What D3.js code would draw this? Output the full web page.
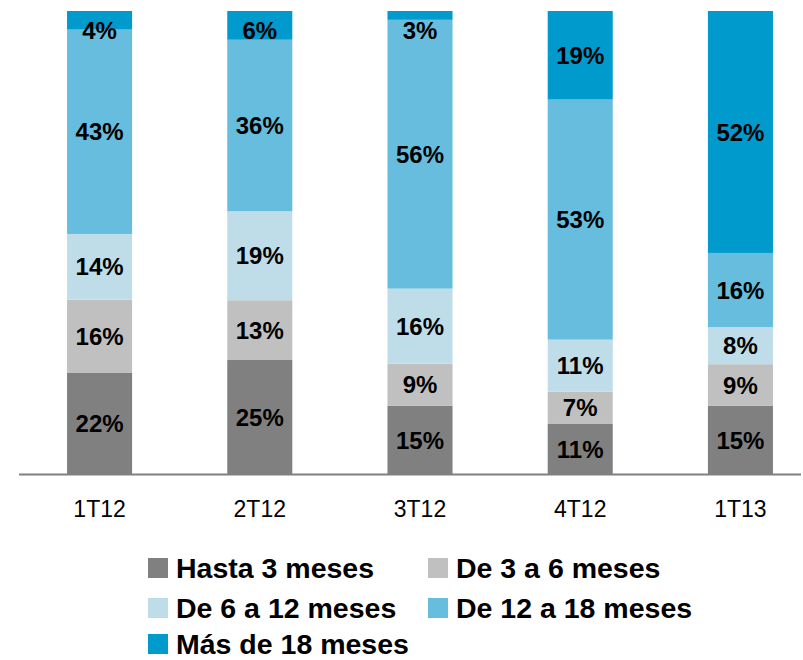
<!DOCTYPE html>
<html><head><meta charset="utf-8">
<script src="https://cdn.jsdelivr.net/npm/d3@7"></script>
<style>html,body{margin:0;padding:0;background:#fff}svg{display:block}</style>
</head><body><svg id="c" width="803" height="660"></svg>
<script>
const categories = ["1T12","2T12","3T12","4T12","1T13"];
const seriesNames = ["Hasta 3 meses","De 3 a 6 meses","De 6 a 12 meses","De 12 a 18 meses","Más de 18 meses"];
const hasta3  = [21.9, 24.7, 14.8, 10.9, 14.8];
const de3a6   = [15.8, 12.9,  9.1,  7.0,  9.0];
const de6a12  = [14.2, 19.2, 16.2, 11.2,  8.0];
const de12a18 = [44.1, 37.0, 58.0, 51.8, 16.0];
const mas18   = [ 4.0,  6.2,  1.9, 19.1, 52.2];
const hasta3Labels  = ["22%","25%","15%","11%","15%"];
const de3a6Labels   = ["16%","13%","9%","7%","9%"];
const de6a12Labels  = ["14%","19%","16%","11%","8%"];
const de12a18Labels = ["43%","36%","56%","53%","16%"];
const mas18Labels   = ["4%","6%","3%","19%","52%"];
const colors = ["#808080","#c0c0c0","#bfdde8","#66bdde","#009acd"];

const seriesValues = [hasta3, de3a6, de6a12, de12a18, mas18];
const seriesLabels = [hasta3Labels, de3a6Labels, de6a12Labels, de12a18Labels, mas18Labels];
const rows = categories.map((c,i)=>{const r={cat:c}; seriesNames.forEach((s,j)=>r[s]=seriesValues[j][i]); return r;});
const stacked = d3.stack().keys(seriesNames)(rows);

const FONT = "'Liberation Sans', Arial, sans-serif";
const svg = d3.select("#c");
const x = d3.scaleBand().domain(categories).range([35, 805]).paddingInner(0.594).paddingOuter(0.2);
const y = d3.scaleLinear().domain([0, 100]).range([474.5, 11]);
const color = d3.scaleOrdinal().domain(seriesNames).range(colors);

const g = svg.append("g");
stacked.forEach((layer, j) => {
  g.selectAll(null).data(layer).enter().append("rect")
    .attr("x", d => x(d.data.cat))
    .attr("y", d => y(d[1]))
    .attr("width", x.bandwidth())
    .attr("height", d => y(d[0]) - y(d[1]))
    .attr("fill", color(seriesNames[j]));
});
stacked.forEach((layer, j) => {
  g.selectAll(null).data(layer).enter().append("text")
    .attr("x", d => x(d.data.cat) + x.bandwidth()/2)
    .attr("y", d => Math.max((y(d[0]) + y(d[1]))/2, 30))
    .attr("dy", "0.36em")
    .attr("text-anchor", "middle")
    .style("font-family", FONT).style("font-weight", "bold").style("font-size", "24px")
    .attr("fill", "#000")
    .text((d,i) => seriesLabels[j][i]);
});

// axis
const xAxis = d3.axisBottom(x).tickSize(0).tickPadding(26);
const ax = svg.append("g").attr("transform", "translate(0,474.5)").call(xAxis);
ax.select(".domain").remove();
ax.selectAll("text").style("font-family", FONT).style("font-size", "23px").attr("fill", "#000");
svg.append("line").attr("x1", 19).attr("x2", 801).attr("y1", 474.5).attr("y2", 474.5)
  .attr("stroke", "#808080").attr("stroke-width", 2);

// legend
const legendPos = [[148,568],[428,568],[148,608],[428,608],[148,644]];
const lg = svg.append("g");
seriesNames.forEach((s, j) => {
  const [lx, ly] = legendPos[j];
  lg.append("rect").attr("x", lx).attr("y", ly-10).attr("width", 20).attr("height", 20).attr("fill", color(s));
  lg.append("text").attr("x", lx+28).attr("y", ly).attr("dy", "0.36em")
    .style("font-family", FONT).style("font-weight", "bold").style("font-size", "28.5px")
    .attr("fill", "#000").text(s);
});
</script></body></html>
